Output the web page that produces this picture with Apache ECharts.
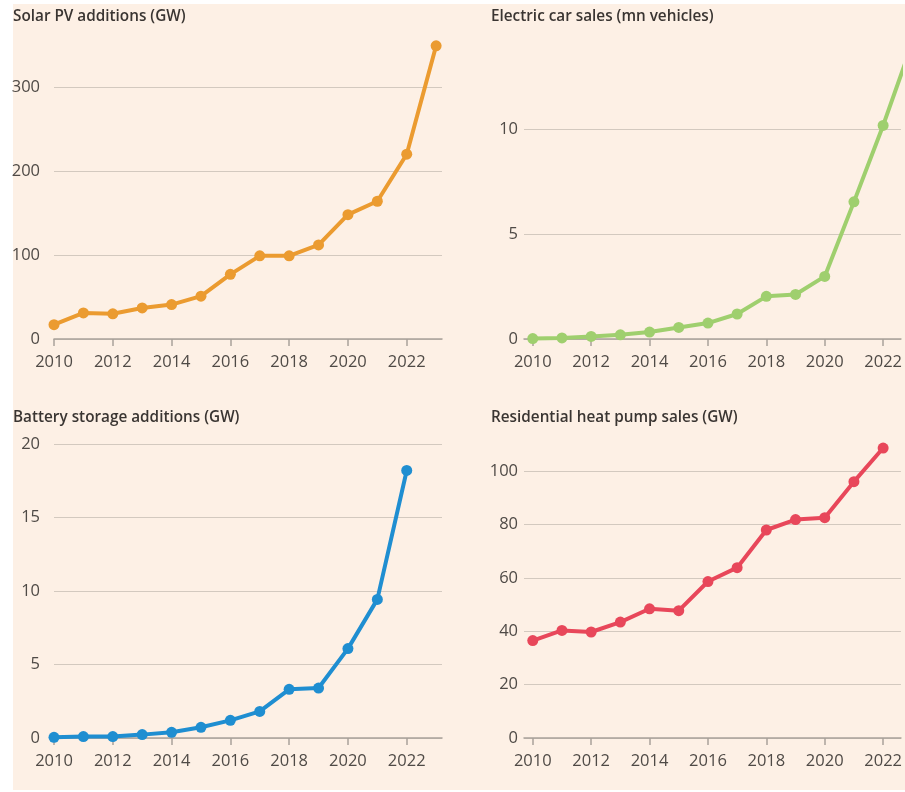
<!DOCTYPE html>
<html>
<head>
<meta charset="utf-8">
<script src="https://cdn.jsdelivr.net/npm/echarts@6/dist/echarts.min.js"></script>
<style>
  html, body { margin: 0; padding: 0; background: #ffffff; overflow: hidden; }
  #paper { position: absolute; left: 13px; top: 4px; width: 892px; height: 786px; background: #fdf0e5; }
  #main { position: absolute; left: 0; top: 0; width: 905px; height: 792px; }
</style>
</head>
<body>
<div id="paper"></div>
<div id="main"></div>
<script>
var years = [2010, 2011, 2012, 2013, 2014, 2015, 2016, 2017, 2018, 2019, 2020, 2021, 2022, 2023];
var yearLabels = [2010, 2012, 2014, 2016, 2018, 2020, 2022];

var solar = [17, 31, 30, 37, 41, 51, 77, 99, 99, 112, 148, 164, 220, 349];
var evSales = [0.02, 0.05, 0.12, 0.2, 0.33, 0.55, 0.76, 1.19, 2.03, 2.12, 2.98, 6.53, 10.17, 14.1];
var battery = [0.05, 0.1, 0.1, 0.23, 0.39, 0.73, 1.2, 1.81, 3.31, 3.4, 6.08, 9.43, 18.2];
var heatPump = [36.5, 40.3, 39.7, 43.4, 48.4, 47.7, 58.6, 63.8, 77.9, 81.8, 82.5, 96.0, 108.6];

var titles = ['Solar PV additions (GW)', 'Electric car sales (mn vehicles)',
              'Battery storage additions (GW)', 'Residential heat pump sales (GW)'];
var colors = ['#eb9b30', '#9fcf6e', '#1f8ed1', '#e8475a'];

var chart = echarts.init(document.getElementById('main'));

var textCol = '#4f4a46';
var font = '"Open Sans", sans-serif';

function pairs(vals) {
    return vals.map(function (v, i) { return [years[i], v]; });
}

var grids = [
    { left: 54, right: 463, top: 87, bottom: 453 },
    { left: 524, right: 0, top: 129, bottom: 453 },
    { left: 54, right: 463, top: 444, bottom: 54 },
    { left: 524, right: 0, top: 471, bottom: 54 }
];
var xRange = [[2010, 2023.2], [2009.7, 2022.61], [2010, 2023.2], [2009.7, 2022.61]];
var yRange = [[0, 300, 100], [0, 10, 5], [0, 20, 5], [0, 100, 20]];
var yMargin = [14, 6, 14, 6];
var seriesData = [solar, evSales, battery, heatPump];
var titlePos = [[13, 9], [491, 9], [13, 410], [491, 410]];

var option = {
    animation: false,
    backgroundColor: 'transparent',
    title: titles.map(function (t, i) {
        return {
            text: t, left: titlePos[i][0], top: titlePos[i][1], padding: 0,
            textStyle: { fontFamily: font, fontSize: 15.3, fontWeight: 600, color: '#3a3532' }
        };
    }),
    grid: grids,
    xAxis: grids.map(function (g, i) {
        return {
            type: 'value', gridIndex: i, min: xRange[i][0], max: xRange[i][1],
            axisLine: { show: true, lineStyle: { color: '#a9a19a', width: 1.5 } },
            axisTick: { show: true, length: 7, customValues: yearLabels, lineStyle: { color: '#a9a19a', width: 1.5 } },
            axisLabel: { customValues: yearLabels, margin: 15, color: textCol, fontSize: 16.5, fontFamily: font,
                         formatter: function (v) { return String(v); } },
            splitLine: { show: false }
        };
    }),
    yAxis: grids.map(function (g, i) {
        return {
            type: 'value', gridIndex: i, min: yRange[i][0], max: yRange[i][1], interval: yRange[i][2],
            axisLine: { show: false },
            axisTick: { show: false },
            axisLabel: { margin: yMargin[i], color: textCol, fontSize: 16.5, fontFamily: font },
            splitLine: { show: true, lineStyle: { color: '#d3c9bf', width: 1.2 } }
        };
    }),
    series: seriesData.map(function (d, i) {
        return {
            type: 'line', xAxisIndex: i, yAxisIndex: i, data: pairs(d),
            symbol: 'circle', symbolSize: 11, showSymbol: true, clip: false,
            itemStyle: { color: colors[i] },
            lineStyle: { color: colors[i], width: 4 }
        };
    })
};

option && chart.setOption(option);

window.addEventListener('resize', function () {
    chart.resize();
});
</script>
</body>
</html>
